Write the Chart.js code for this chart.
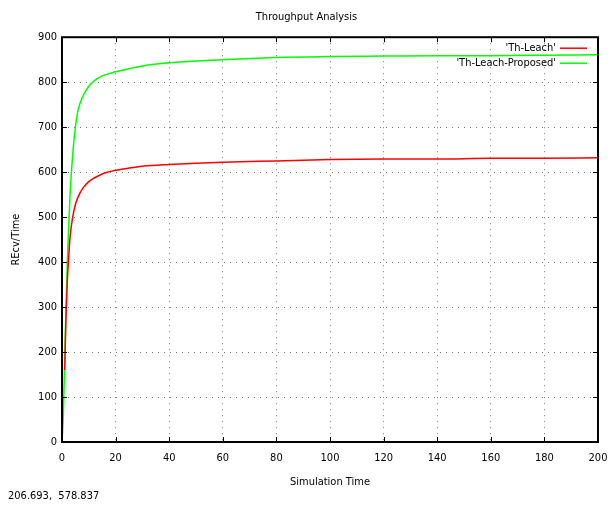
<!DOCTYPE html>
<html>
<head>
<meta charset="utf-8">
<script src="https://cdn.jsdelivr.net/npm/chart.js@4/dist/chart.umd.min.js"></script>
<style>
  html, body { margin: 0; padding: 0; background: #fff; }
  #wrap { position: relative; width: 613px; height: 505px; }
</style>
</head>
<body>
<div id="wrap"><canvas id="chart1"></canvas></div>
<script>
(function(){
  'use strict';

  // values
  var seriesNames = ["'Th-Leach'", "'Th-Leach-Proposed'"];
  var leachX = [1, 1.5, 2, 2.5, 3, 4, 5, 6, 8, 10, 12, 15, 20, 25, 30, 40, 50, 60, 80, 100, 120, 140, 160, 180, 200];
  var leachY = [160, 280, 360, 410, 455, 500, 528, 545, 566, 579, 587, 596, 604, 609, 613, 617, 620, 622, 625, 628, 629, 629, 631, 631, 632];
  var proposedX = [0, 0.5, 1, 1.5, 2, 2.5, 3, 4, 5, 6, 8, 10, 12, 15, 20, 25, 30, 40, 50, 60, 80, 100, 120, 140, 160, 180, 200];
  var proposedY = [0, 60, 180, 300, 400, 480, 550, 640, 700, 738, 771, 791, 803, 814, 823, 830, 836, 843, 847, 850, 855, 857, 858, 859, 859, 860, 861];
  var xTicks = [0, 20, 40, 60, 80, 100, 120, 140, 160, 180, 200];
  var yTicks = [0, 100, 200, 300, 400, 500, 600, 700, 800, 900];
  var cornerText = '206.693,  578.837';

  var FONT = "'DejaVu Sans Condensed', 'DejaVu Sans', sans-serif";

  function toPoints(xs, ys) {
    var pts = [];
    for (var i = 0; i < xs.length; i++) {
      pts.push({x: xs[i], y: ys[i]});
    }
    return pts;
  }

  // gnuplot style frame, inward ticks, legend and the mouse readout
  var gnuplotBits = {
    id: 'gnuplotBits',
    afterDraw: function(chart) {
      var ctx = chart.ctx;
      var a = chart.chartArea;
      var xs = chart.scales.x;
      var ys = chart.scales.y;
      ctx.save();
      ctx.strokeStyle = '#000';
      ctx.lineWidth = 1;
      ctx.beginPath();
      xTicks.forEach(function(v) {
        var px = Math.round(xs.getPixelForValue(v)) + 0.5;
        ctx.moveTo(px, a.bottom); ctx.lineTo(px, a.bottom - 5);
        ctx.moveTo(px, a.top); ctx.lineTo(px, a.top + 5);
      });
      yTicks.forEach(function(v) {
        var py = Math.round(ys.getPixelForValue(v)) + 0.5;
        ctx.moveTo(a.left, py); ctx.lineTo(a.left + 5, py);
        ctx.moveTo(a.right, py); ctx.lineTo(a.right - 5, py);
      });
      ctx.stroke();
      ctx.lineWidth = 2;
      ctx.strokeRect(a.left, a.top, a.right - a.left, a.bottom - a.top);

      // legend, text right aligned then a line sample
      ctx.font = '11px ' + FONT;
      ctx.textAlign = 'right';
      ctx.textBaseline = 'middle';
      chart.data.datasets.forEach(function(ds, i) {
        var y = a.top + 11 + i * 15;
        ctx.fillStyle = '#000';
        ctx.fillText(ds.label, a.right - 42, y);
        ctx.strokeStyle = ds.borderColor;
        ctx.lineWidth = 1.5;
        ctx.beginPath();
        ctx.moveTo(a.right - 38, y);
        ctx.lineTo(a.right - 11, y);
        ctx.stroke();
      });

      ctx.fillStyle = '#000';
      ctx.textAlign = 'left';
      ctx.fillText(cornerText, 8, 496);
      ctx.restore();
    }
  };

  var c1 = document.getElementById('chart1');

  var chart1 = new Chart(c1, {
    type: 'line',
    data: {
      datasets: [{
        label: seriesNames[0],
        data: toPoints(leachX, leachY),
        borderColor: '#ff0000',
        borderWidth: 1.5,
        pointRadius: 0,
        cubicInterpolationMode: 'monotone',
        fill: false
      }, {
        label: seriesNames[1],
        data: toPoints(proposedX, proposedY),
        borderColor: '#00ff00',
        borderWidth: 1.5,
        pointRadius: 0,
        cubicInterpolationMode: 'monotone',
        fill: false
      }]
    },
    options: {
      responsive: true,
      maintainAspectRatio: false,
      animation: false,
      layout: { padding: { top: 0, right: 0, bottom: 16, left: 0 } },
      plugins: {
        legend: { display: false },
        tooltip: { enabled: false },
        title: {
          display: true,
          text: 'Throughput Analysis',
          color: '#000',
          font: { family: FONT, size: 11, weight: 'normal' },
          padding: { top: 11, bottom: 13 }
        }
      },
      scales: {
        x: {
          type: 'linear',
          min: 0,
          max: 200,
          afterBuildTicks: function(axis) {
            axis.ticks = xTicks.map(function(v) { return {value: v}; });
          },
          afterFit: function(axis) {
            axis.height = 47;
            axis.paddingRight = 15;
          },
          grid: {
            color: '#777',
            drawTicks: false
          },
          border: { display: false, dash: [1, 5] },
          ticks: {
            color: '#000',
            padding: 10,
            maxRotation: 0,
            font: { family: FONT, size: 11 }
          },
          title: {
            display: true,
            text: 'Simulation Time',
            color: '#000',
            font: { family: FONT, size: 11 },
            padding: { top: 6, bottom: 0 }
          }
        },
        y: {
          min: 0,
          max: 900,
          afterBuildTicks: function(axis) {
            axis.ticks = yTicks.map(function(v) { return {value: v}; });
          },
          afterFit: function(axis) { axis.width = 62; },
          grid: {
            color: '#777',
            drawTicks: false
          },
          border: { display: false, dash: [1, 5] },
          ticks: {
            color: '#000',
            padding: 5,
            font: { family: FONT, size: 11 }
          },
          title: {
            display: true,
            text: 'REcv/Time',
            color: '#000',
            font: { family: FONT, size: 11 },
            padding: { top: 10, bottom: 4 }
          }
        }
      }
    },
    plugins: [gnuplotBits]
  });

  // dotted grid lines like gnuplot
  chart1.options.scales.x.grid.borderDash = [1, 5];
  chart1.options.scales.y.grid.borderDash = [1, 5];
  chart1.update();

}());
</script>
</body>
</html>
